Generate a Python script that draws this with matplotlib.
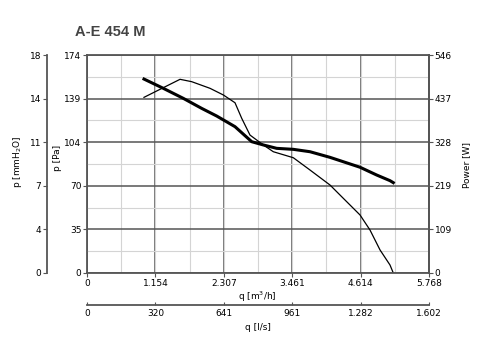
import matplotlib
matplotlib.use('Agg')
import matplotlib.pyplot as plt
from matplotlib.ticker import FixedLocator, MultipleLocator

# --- DATOS ---
q_max = 5.768
p_max = 174
q_ticks = [0, 1.154, 2.307, 3.461, 4.614, 5.768]
q_labels = ['0', '1.154', '2.307', '3.461', '4.614', '5.768']
ls_labels = ['0', '320', '641', '961', '1.282', '1.602']
p_ticks = [0, 34.8, 69.6, 104.4, 139.2, 174]
pa_labels = ['0', '35', '70', '104', '139', '174']
mm_labels = ['0', '4', '7', '11', '14', '18']
w_labels = ['0', '109', '219', '328', '437', '546']

# curva gruesa
q_thick = [0.961, 1.287, 1.624, 1.934, 2.187, 2.496, 2.778, 2.974, 3.199, 3.480,
           3.761, 4.099, 4.605, 4.886, 5.110, 5.166]
p_thick = [154.8, 147.4, 139.4, 131.4, 125.3, 116.8, 104.8, 102.2, 99.5, 98.7,
           96.8, 92.3, 84.4, 78.2, 73.7, 72.1]
# curva fina
q_thin = [0.961, 1.569, 1.766, 2.075, 2.299, 2.496, 2.609, 2.749, 2.974, 3.142,
          3.480, 3.761, 4.099, 4.323, 4.605, 4.773, 4.942, 5.110, 5.166]
p_thin = [140.2, 154.6, 152.7, 147.4, 142.1, 135.9, 123.5, 110.1, 102.2, 96.8,
          92.0, 82.2, 70.2, 59.6, 46.3, 34.3, 18.4, 6.4, 0.0]

W, H = 502, 354
fig = plt.figure(figsize=(W / 100, H / 100), dpi=100)
x0, x1, y0, y1 = 87, 429, 273, 55
ax = fig.add_axes([x0 / W, 1 - y0 / H, (x1 - x0) / W, (y0 - y1) / H])

eje = '#555555'
fs = 6.5

ax.set_xlim(0, q_max); ax.set_ylim(0, p_max)
ax.xaxis.set_major_locator(FixedLocator(q_ticks))
ax.yaxis.set_major_locator(FixedLocator(p_ticks))
ax.xaxis.set_minor_locator(MultipleLocator(q_max / 10))
ax.yaxis.set_minor_locator(MultipleLocator(p_max / 10))
ax.set_xticklabels(q_labels); ax.set_yticklabels(pa_labels)
ax.grid(which='minor', color='#d4d4d4', lw=0.8)
ax.grid(which='major', color=eje, lw=1.1)
ax.tick_params(which='minor', length=0)
ax.tick_params(which='major', labelsize=fs, length=3, width=0.8, color=eje, pad=1)
for s in ax.spines.values():
    s.set_color(eje); s.set_linewidth(1.3)

ax.plot(q_thin, p_thin, color='black', lw=0.9)
ax.plot(q_thick, p_thick, color='black', lw=2.2)

# eje mmH2O
ax_mm = ax.twinx()
ax_mm.set_ylim(0, p_max)
ax_mm.yaxis.set_ticks_position('left')
ax_mm.yaxis.set_label_position('left')
ax_mm.spines['left'].set_position(('axes', (46.7 - x0) / (x1 - x0)))
for k in ['right', 'top', 'bottom']:
    ax_mm.spines[k].set_visible(False)
ax_mm.spines['left'].set_color(eje); ax_mm.spines['left'].set_linewidth(1.3)
ax_mm.yaxis.set_major_locator(FixedLocator(p_ticks))
ax_mm.set_yticklabels(mm_labels)
ax_mm.tick_params(labelsize=fs, length=3, width=0.8, color=eje, pad=1)

# eje potencia
ax_w = ax.twinx()
ax_w.set_ylim(0, p_max)
ax_w.yaxis.set_major_locator(FixedLocator(p_ticks))
ax_w.set_yticklabels(w_labels)
for k in ['left', 'top', 'bottom']:
    ax_w.spines[k].set_visible(False)
ax_w.spines['right'].set_color(eje); ax_w.spines['right'].set_linewidth(1.3)
ax_w.tick_params(labelsize=fs, length=3, width=0.8, color=eje, pad=1)

# eje l/s
ax_ls = ax.twiny()
ax_ls.set_xlim(0, q_max)
ax_ls.xaxis.set_ticks_position('bottom')
ax_ls.spines['bottom'].set_position(('axes', (y0 - 305) / (y0 - y1)))
for k in ['left', 'top', 'right']:
    ax_ls.spines[k].set_visible(False)
ax_ls.spines['bottom'].set_color(eje); ax_ls.spines['bottom'].set_linewidth(1.3)
ax_ls.xaxis.set_major_locator(FixedLocator(q_ticks))
ax_ls.set_xticklabels(ls_labels)
ax_ls.tick_params(labelsize=fs, length=2, width=0.8, color=eje, direction='in', pad=3)

# textos
fig.text(75 / W, 1 - 32 / H, 'A-E 454 M', fontsize=10.5, fontweight='bold',
         family='Liberation Sans', color='#444444', ha='left', va='center')
fig.text(18 / W, 1 - 162 / H, 'p [mmH$_2$O]', rotation=90, fontsize=fs,
         ha='center', va='center')
fig.text(58 / W, 1 - 158 / H, 'p [Pa]', rotation=90, fontsize=fs,
         ha='center', va='center')
fig.text(467 / W, 1 - 165 / H, 'Power [W]', rotation=90, fontsize=fs,
         ha='center', va='center')
fig.text(257 / W, 1 - 297 / H, 'q [m$^3$/h]', fontsize=fs, ha='center', va='center')
fig.text(258 / W, 1 - 328 / H, 'q [l/s]', fontsize=fs, ha='center', va='center')

fig.savefig('out.png', dpi=100)
